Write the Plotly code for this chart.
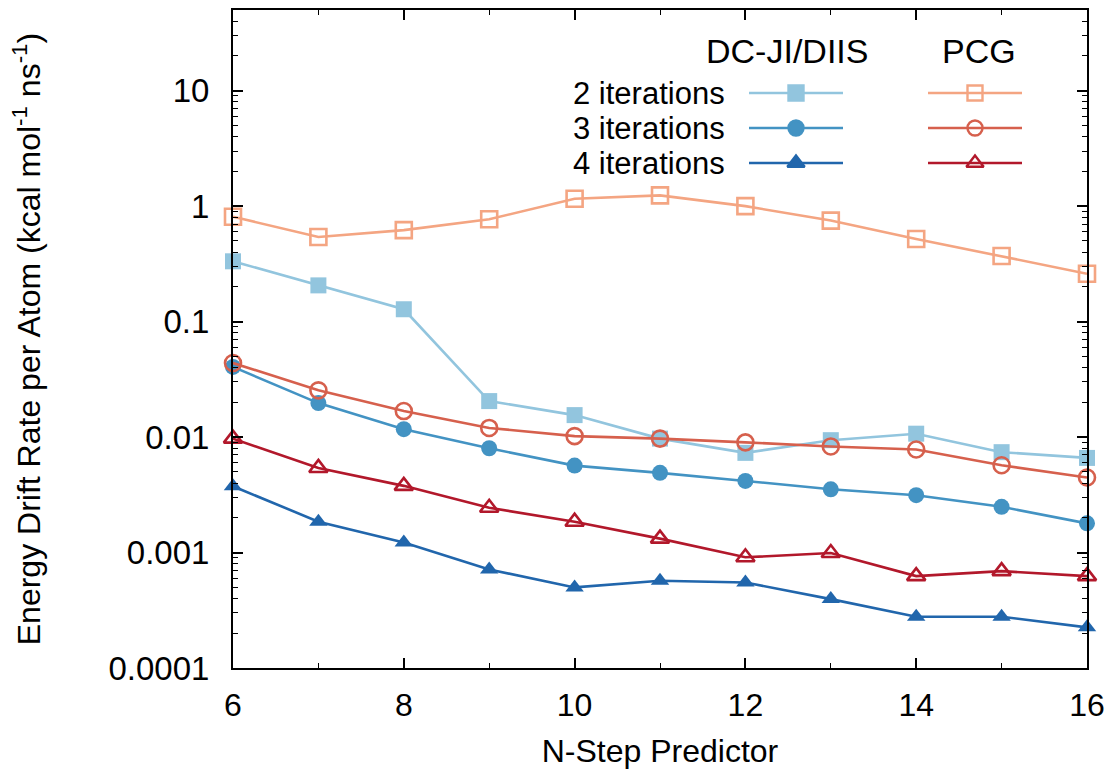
import plotly.graph_objects as go

# ---------------- data ----------------
n_steps = [6, 7, 8, 9, 10, 11, 12, 13, 14, 15, 16]

dc_2iter = [0.333, 0.206, 0.128, 0.0205, 0.0155, 0.0097, 0.0073, 0.0094, 0.0107, 0.0074, 0.0066]
dc_3iter = [0.0405, 0.0197, 0.0117, 0.0080, 0.00566, 0.0049, 0.00417, 0.00353, 0.00314, 0.00249, 0.00179]
dc_4iter = [0.00375, 0.00185, 0.00122, 0.000714, 0.000499, 0.00057, 0.00055, 0.000395, 0.000278, 0.000278, 0.000225]

pcg_2iter = [0.81, 0.54, 0.62, 0.77, 1.16, 1.24, 1.0, 0.75, 0.52, 0.37, 0.26]
pcg_3iter = [0.0438, 0.0254, 0.0168, 0.0120, 0.0102, 0.0097, 0.0090, 0.0083, 0.0078, 0.0057, 0.00447]
pcg_4iter = [0.0097, 0.0054, 0.00378, 0.00244, 0.00185, 0.00132, 0.00091, 0.00099, 0.000625, 0.00069, 0.000625]

row_labels = ["2 iterations", "3 iterations", "4 iterations"]
group_labels = ["DC-JI/DIIS", "PCG"]

y_tickvals = [1e-4, 1e-3, 1e-2, 1e-1, 1, 10]
y_ticktext = ["0.0001", "0.001", "0.01", "0.1", "1", "10"]
x_tickvals = [6, 8, 10, 12, 14, 16]

# ---------------- style ----------------
FONT = "Liberation Sans, Arial, Helvetica, sans-serif"
W, H = 1113, 772
L, R, T, B = 233, 26, 10, 104

dc_colors = ["#92c5de", "#4393c3", "#2166ac"]
pcg_colors = ["#f4a582", "#d6604d", "#b2182b"]
dc_symbols = ["square", "circle", "triangle-up"]
pcg_symbols = ["square-open", "circle-open", "triangle-up-open"]
msizes = [16, 16, 16]

fig = go.Figure()

dc_series = [dc_2iter, dc_3iter, dc_4iter]
pcg_series = [pcg_2iter, pcg_3iter, pcg_4iter]

for i, ys in enumerate(dc_series):
    fig.add_trace(go.Scatter(
        x=n_steps, y=ys, mode="lines+markers",
        line=dict(color=dc_colors[i], width=2.6),
        marker=dict(symbol=dc_symbols[i], size=msizes[i], color=dc_colors[i]),
        showlegend=False, cliponaxis=False,
    ))
for i, ys in enumerate(pcg_series):
    fig.add_trace(go.Scatter(
        x=n_steps, y=ys, mode="lines+markers",
        line=dict(color=pcg_colors[i], width=2.6),
        marker=dict(symbol=pcg_symbols[i], size=msizes[i], color=pcg_colors[i],
                    line=dict(width=2.6, color=pcg_colors[i])),
        showlegend=False, cliponaxis=False,
    ))

# ---------------- custom two-column legend (pixel-space overlay axis) ----------------
row_y = [93, 128, 163]
dc_key = (749, 843)
pcg_key = (928, 1022)
for i in range(3):
    for (x0, x1), col, sym in [(dc_key, dc_colors[i], dc_symbols[i]),
                               (pcg_key, pcg_colors[i], pcg_symbols[i])]:
        fig.add_trace(go.Scatter(
            x=[x0, x1], y=[row_y[i], row_y[i]], mode="lines",
            line=dict(color=col, width=2.6), xaxis="x2", yaxis="y2",
            showlegend=False, hoverinfo="skip", cliponaxis=False,
        ))
        fig.add_trace(go.Scatter(
            x=[(x0 + x1) / 2], y=[row_y[i]], mode="markers",
            marker=dict(symbol=sym, size=msizes[i] - 1, color=col,
                        line=dict(width=2.4, color=col)),
            xaxis="x2", yaxis="y2",
            showlegend=False, hoverinfo="skip", cliponaxis=False,
        ))
    fig.add_annotation(x=727, y=row_y[i], xref="x2", yref="y2", text=row_labels[i],
                       showarrow=False, xanchor="right", yanchor="middle",
                       font=dict(family=FONT, size=31, color="black"))

fig.add_annotation(x=787, y=51, xref="x2", yref="y2", text=group_labels[0],
                   showarrow=False, xanchor="center", yanchor="middle",
                   font=dict(family=FONT, size=34, color="black"))
fig.add_annotation(x=979, y=51, xref="x2", yref="y2", text=group_labels[1],
                   showarrow=False, xanchor="center", yanchor="middle",
                   font=dict(family=FONT, size=34, color="black"))

y_minor = [m * 10.0 ** k for k in range(-4, 2) for m in range(2, 10) if m * 10.0 ** k < 50]

fig.update_layout(
    width=W, height=H,
    margin=dict(l=L, r=R, t=T, b=B, pad=0, autoexpand=False),
    paper_bgcolor="white", plot_bgcolor="white",
    font=dict(family=FONT, size=32, color="black"),
    xaxis=dict(
        range=[6, 16], tickvals=x_tickvals, ticks="inside", ticklen=10, tickwidth=1.5,
        tickcolor="black", showline=True, linecolor="black", linewidth=2,
        mirror="allticks", showgrid=False, zeroline=False, automargin=False,
        minor=dict(tickvals=[7, 9, 11, 13, 15], ticks="inside", ticklen=5,
                   tickwidth=1.2, tickcolor="black", showgrid=False),
        tickfont=dict(family=FONT, size=32), ticklabelstandoff=8,
        title=dict(text="N-Step Predictor", font=dict(family=FONT, size=32), standoff=17),
    ),
    yaxis=dict(
        type="log", range=[-4, 1.699], tickvals=y_tickvals, ticktext=y_ticktext,
        ticks="inside", ticklen=10, tickwidth=1.5, tickcolor="black",
        showline=True, linecolor="black", linewidth=2, mirror="allticks",
        showgrid=False, zeroline=False, automargin=False,
        minor=dict(tickvals=y_minor, ticks="inside", ticklen=5, tickwidth=1.2,
                   tickcolor="black", showgrid=False),
        tickfont=dict(family=FONT, size=33), ticklabelstandoff=15,
        title=dict(text="Energy Drift Rate per Atom (kcal mol<sup>-1</sup> ns<sup>-1</sup>)",
                   font=dict(family=FONT, size=32), standoff=58),
    ),
    xaxis2=dict(range=[L, W - R], overlaying="x", visible=False, fixedrange=True),
    yaxis2=dict(range=[H - B, T], overlaying="y", visible=False, fixedrange=True),
)

fig.write_html("out.html")
